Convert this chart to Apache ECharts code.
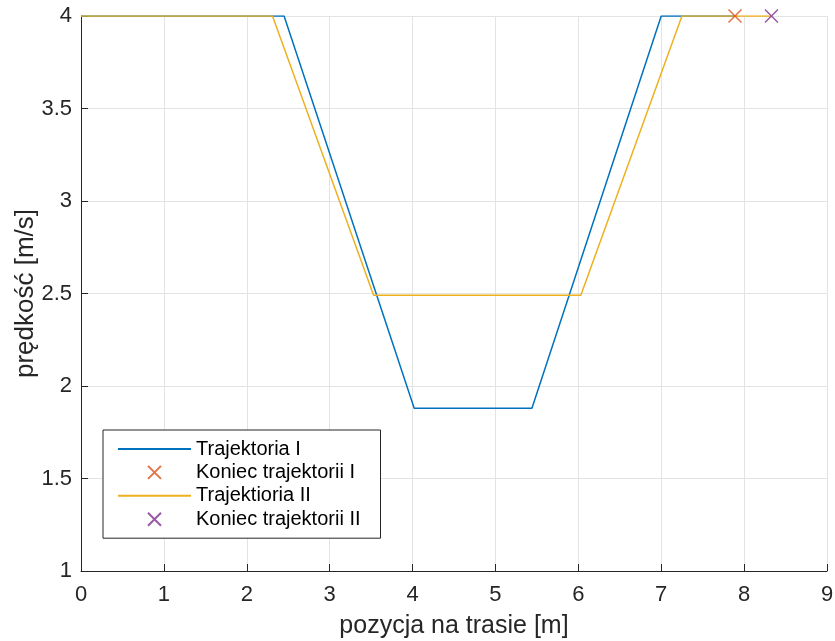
<!DOCTYPE html>
<html>
<head>
<meta charset="utf-8">
<script src="https://cdn.jsdelivr.net/npm/echarts@6/dist/echarts.min.js"></script>
<style>
  html, body { margin: 0; padding: 0; background: #fff; }
  #main { width: 835px; height: 641px; }
</style>
</head>
<body>
<div id="main"></div>
<script>
// trajektoria I
var pos1 = [0, 2.45, 4.02, 5.44, 7.0, 7.89];
var vel1 = [4, 4, 1.88, 1.88, 4, 4];
var end1 = [7.89, 4];
// trajektoria II
var pos2 = [0, 2.31, 3.53, 6.03, 7.25, 8.33];
var vel2 = [4, 4, 2.49, 2.49, 4, 4];
var end2 = [8.33, 4];

var names = ['Trajektoria I', 'Koniec trajektorii I', 'Trajektioria II', 'Koniec trajektorii II'];
var colors = ['#0072BD', '#D95319', '#EDB120', '#7E2F8E'];

function pairs(xs, ys) {
  return xs.map(function (x, i) { return [x, ys[i]]; });
}

var cross = 'path://M0,0L10,10M10,0L0,10';

var chart = echarts.init(document.getElementById('main'));

var option = {
  backgroundColor: '#fff',
  animation: false,
  color: colors,
  textStyle: { fontFamily: 'Liberation Sans' },
  grid: { left: 81, right: 8, top: 16, bottom: 70, outerBoundsMode: 'none' },
  legend: {
    orient: 'vertical',
    left: 103,
    top: 430,
    padding: [9, 20, 9, 14],
    itemWidth: 73,
    itemHeight: 13,
    itemGap: 3.4,
    borderColor: '#262626',
    borderWidth: 1,
    backgroundColor: '#fff',
    textStyle: { fontSize: 20, color: '#000' },
    data: [
      { name: names[0], itemStyle: { opacity: 0 } },
      names[1],
      { name: names[2], itemStyle: { opacity: 0 } },
      names[3]
    ]
  },
  xAxis: {
    type: 'value',
    min: 0,
    max: 9,
    interval: 1,
    name: 'pozycja na trasie [m]',
    nameLocation: 'middle',
    nameGap: 43,
    nameMoveOverlap: false,
    nameTextStyle: { fontSize: 25, color: '#262626' },
    axisLine: { onZero: false, lineStyle: { color: '#262626', width: 1 } },
    axisTick: { inside: true, length: 7, lineStyle: { color: '#262626' } },
    axisLabel: { fontSize: 22, color: '#262626', margin: 13 },
    splitLine: { show: true, lineStyle: { color: '#e3e3e3', width: 1 } }
  },
  yAxis: {
    type: 'value',
    min: 1,
    max: 4,
    interval: 0.5,
    name: 'prędkość [m/s]',
    nameLocation: 'middle',
    nameGap: 42,
    nameMoveOverlap: false,
    nameTextStyle: { fontSize: 26, color: '#262626' },
    axisLine: { show: true, onZero: false, lineStyle: { color: '#262626', width: 1 } },
    axisTick: { show: true, inside: true, length: 7, lineStyle: { color: '#262626' } },
    axisLabel: { fontSize: 22, color: '#262626', margin: 9 },
    splitLine: { show: true, lineStyle: { color: '#e3e3e3', width: 1 } }
  },
  series: [
    {
      name: names[0],
      type: 'line',
      data: pairs(pos1, vel1),
      symbol: 'none',
      lineStyle: { width: 1.5, color: colors[0] },
      itemStyle: { color: colors[0] }
    },
    {
      name: names[1],
      type: 'scatter',
      data: [end1],
      symbol: cross,
      symbolSize: 13,
      z: 5,
      itemStyle: { color: colors[1], borderColor: colors[1], borderWidth: 1.5 }
    },
    {
      name: names[2],
      type: 'line',
      data: pairs(pos2, vel2),
      symbol: 'none',
      lineStyle: { width: 1.5, color: colors[2] },
      itemStyle: { color: colors[2] }
    },
    {
      name: names[3],
      type: 'scatter',
      data: [end2],
      symbol: cross,
      symbolSize: 13,
      z: 5,
      itemStyle: { color: colors[3], borderColor: colors[3], borderWidth: 1.5 }
    }
  ]
};

chart.setOption(option);
</script>
</body>
</html>
